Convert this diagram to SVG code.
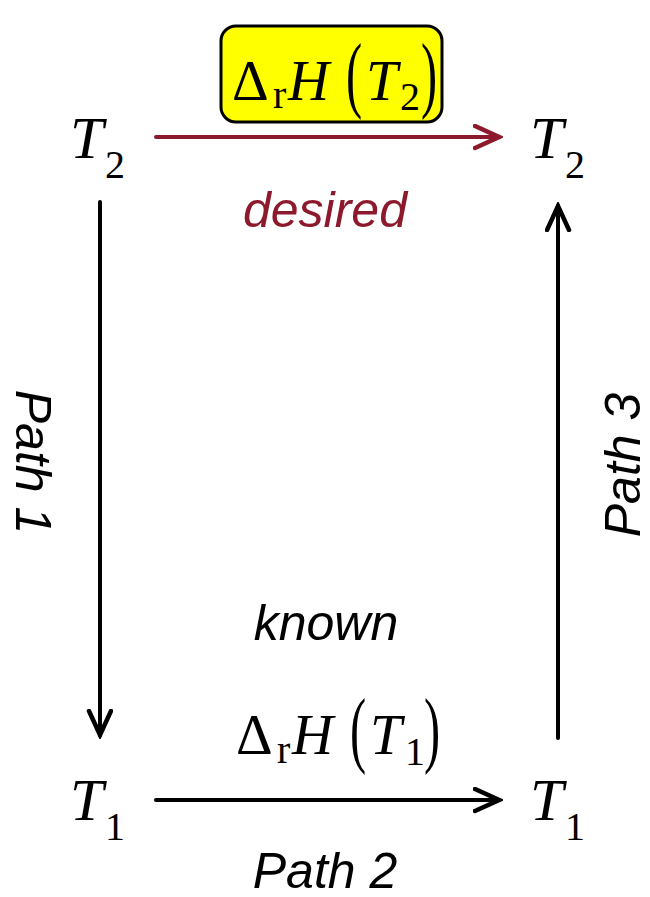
<svg xmlns="http://www.w3.org/2000/svg" width="650" height="897" viewBox="0 0 650 897">
<style>
.m{font-family:"Liberation Serif","Times New Roman",serif;font-size:60px;fill:#000}
.f{font-family:"Liberation Serif","Times New Roman",serif;font-size:57px;fill:#000}
.i{font-style:italic}
.sub{font-size:40px}
.lab{font-family:"Liberation Sans",Arial,sans-serif;font-style:italic;font-size:50px;fill:#000}
.k{stroke:#000;stroke-width:4;fill:none;stroke-linecap:round}
.r{stroke:#8C1A2C;stroke-width:4;fill:none;stroke-linecap:round}
</style>
<defs>
<marker id="ak" markerUnits="userSpaceOnUse" markerWidth="30" markerHeight="30" refX="26" refY="13" orient="auto">
<path d="M2,2 L26,13 L2,24" fill="none" stroke="#000" stroke-width="4.5" stroke-linecap="round" stroke-linejoin="miter"/>
</marker>
<marker id="ar" markerUnits="userSpaceOnUse" markerWidth="30" markerHeight="30" refX="26" refY="13" orient="auto">
<path d="M2,2 L26,13 L2,24" fill="none" stroke="#8C1A2C" stroke-width="4.5" stroke-linecap="round" stroke-linejoin="miter"/>
</marker>
</defs>
<g id="connectors">
<line class="r" x1="156" y1="137" x2="499" y2="137" marker-end="url(#ar)"/>
<line class="k" x1="100" y1="202" x2="100" y2="735" marker-end="url(#ak)"/>
<line class="k" x1="156" y1="800" x2="499" y2="800" marker-end="url(#ak)"/>
<line class="k" x1="558" y1="738" x2="558" y2="206" marker-end="url(#ak)"/>
</g>
<g id="T2-left"><text class="m" x="70" y="158"><tspan class="i">T</tspan><tspan class="sub" x="105" y="178">2</tspan></text></g>
<g id="T2-right"><text class="m" x="530" y="158"><tspan class="i">T</tspan><tspan class="sub" x="565" y="178">2</tspan></text></g>
<g id="T1-left"><text class="m" x="70" y="820"><tspan class="i">T</tspan><tspan class="sub" x="105" y="840">1</tspan></text></g>
<g id="T1-right"><text class="m" x="530" y="820"><tspan class="i">T</tspan><tspan class="sub" x="565" y="840">1</tspan></text></g>
<g id="desired-label">
<rect x="221" y="26" width="221" height="96" rx="15" ry="15" fill="#FFFF00" stroke="#000" stroke-width="3"/>
<text class="f" x="232" y="100">Δ</text>
<text class="f sub" x="273" y="108">r</text>
<text class="f i" x="288" y="100">H</text>
<text class="f" transform="translate(346,102) scale(0.85,1.5)">(</text>
<text class="f i" x="366" y="100">T</text>
<text class="f sub" x="400" y="110">2</text>
<text class="f" transform="translate(421,102) scale(0.85,1.5)">)</text>
<text class="lab" x="325" y="227" text-anchor="middle" style="fill:#8C1A2C">desired</text>
</g>
<g id="known-label">
<text class="lab" x="326" y="640" text-anchor="middle">known</text>
<text class="f" x="236" y="754">Δ</text>
<text class="f sub" x="277" y="763">r</text>
<text class="f i" x="292" y="754">H</text>
<text class="f" transform="translate(350,757) scale(0.85,1.5)">(</text>
<text class="f i" x="370" y="754">T</text>
<text class="f sub" x="405" y="765">1</text>
<text class="f" transform="translate(424,757) scale(0.85,1.5)">)</text>
</g>
<g id="path-labels">
<text class="lab" x="325" y="888" text-anchor="middle">Path 2</text>
<text class="lab" transform="translate(16,462) rotate(90)" text-anchor="middle">Path 1</text>
<text class="lab" transform="translate(640,465) rotate(-90)" text-anchor="middle">Path 3</text>
</g>
</svg>
